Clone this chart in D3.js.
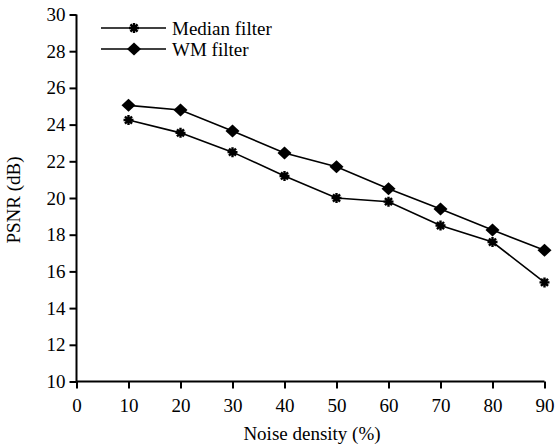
<!DOCTYPE html>
<html lang="en">
  <head>
    <meta charset="UTF-8" />
    <title>PSNR</title>
    <style>
      body { margin: 0; background: #fff; }
      text { font-family: 'Liberation Serif', 'Times New Roman', serif; fill: #000; }
    </style>
    <script src="https://d3js.org/d3.v7.min.js"></script>
  </head>
  <body>
    <div class="chart"></div>
    <script>
      const density = [10, 20, 30, 40, 50, 60, 70, 80, 90]
      const medianFilter = [24.25, 23.55, 22.5, 21.2, 20.0, 19.8, 18.5, 17.6, 15.4]
      const wmFilter = [25.05, 24.8, 23.65, 22.45, 21.7, 20.5, 19.4, 18.25, 17.15]
      const xTicks = [0, 10, 20, 30, 40, 50, 60, 70, 80, 90]
      const yTicks = [10, 12, 14, 16, 18, 20, 22, 24, 26, 28, 30]

      const width = 555
      const height = 447
      const fontSize = '19px'
      const svg = d3.select('.chart').append('svg').attr('width', width).attr('height', height)

      const x = d3.scaleLinear().domain([0, 90]).range([76.5, 544.5])
      const y = d3.scaleLinear().domain([10, 30]).range([381.5, 14.5])

      // axes
      const xAxis = svg.append('g').attr('transform', `translate(0, ${y(10)})`)
        .call(d3.axisBottom(x).tickValues(xTicks).tickSize(7).tickPadding(10))
      const yAxis = svg.append('g').attr('transform', `translate(${x(0)}, 0)`)
        .call(d3.axisLeft(y).tickValues(yTicks).tickSize(7).tickPadding(4))
      ;[xAxis, yAxis].forEach((g) => {
        g.select('.domain').attr('stroke', '#000').attr('stroke-width', 2)
        g.selectAll('.tick line').attr('stroke', '#000').attr('stroke-width', 2)
        g.selectAll('.tick text').style('font-size', fontSize).style('font-family', "'Liberation Serif', serif")
      })
      yAxis.select('.domain').attr('d', `M0,${y(30)}V${y(10)}`)
      xAxis.select('.domain').attr('d', `M${x(0)},0H${x(90)}`)

      // series
      const series = [
        { name: 'Median filter', values: medianFilter, marker: 'star' },
        { name: 'WM filter', values: wmFilter, marker: 'diamond' }
      ]
      const line = d3.line().x((d) => x(d[0])).y((d) => y(d[1]))

      // asterisk made of 4 strokes
      const r = 5
      const starPath = d3.range(4).map((k) => {
        const a = (k * Math.PI) / 4
        const dx = r * Math.cos(a)
        const dy = r * Math.sin(a)
        return `M${-dx},${-dy}L${dx},${dy}`
      }).join('')

      function drawMarker(g, type, cx, cy) {
        if (type === 'diamond') {
          g.append('path')
            .attr('d', 'M0,-6.5L7,0L0,6.5L-7,0Z')
            .attr('transform', `translate(${cx},${cy})`)
            .attr('fill', '#000')
        } else {
          g.append('path')
            .attr('d', starPath)
            .attr('transform', `translate(${cx},${cy})`)
            .attr('stroke', '#000')
            .attr('stroke-width', 2.4)
            .attr('fill', 'none')
        }
      }

      series.forEach((s) => {
        const pts = density.map((d, i) => [d, s.values[i]])
        svg.append('path')
          .datum(pts)
          .attr('d', line)
          .attr('fill', 'none')
          .attr('stroke', '#000')
          .attr('stroke-width', 1.6)
        const mg = svg.append('g')
        pts.forEach((p) => drawMarker(mg, s.marker, x(p[0]), y(p[1])))
      })

      // legend
      const legend = svg.append('g')
      series.forEach((s, i) => {
        const ly = 28 + i * 21
        legend.append('line')
          .attr('x1', 101).attr('x2', 166)
          .attr('y1', ly).attr('y2', ly)
          .attr('stroke', '#000').attr('stroke-width', 1.6)
        drawMarker(legend, s.marker, 134, ly)
        legend.append('text')
          .attr('x', 172).attr('y', ly)
          .attr('dy', '0.35em')
          .style('font-size', fontSize)
          .text(s.name)
      })

      // axis titles
      svg.append('text')
        .attr('x', 312).attr('y', 440)
        .attr('text-anchor', 'middle')
        .style('font-size', fontSize)
        .text('Noise density (%)')
      svg.append('text')
        .attr('transform', `translate(20, ${(y(10) + y(30)) / 2 + 2}) rotate(-90)`)
        .attr('text-anchor', 'middle')
        .style('font-size', fontSize)
        .text('PSNR (dB)')
    </script>
  </body>
</html>
